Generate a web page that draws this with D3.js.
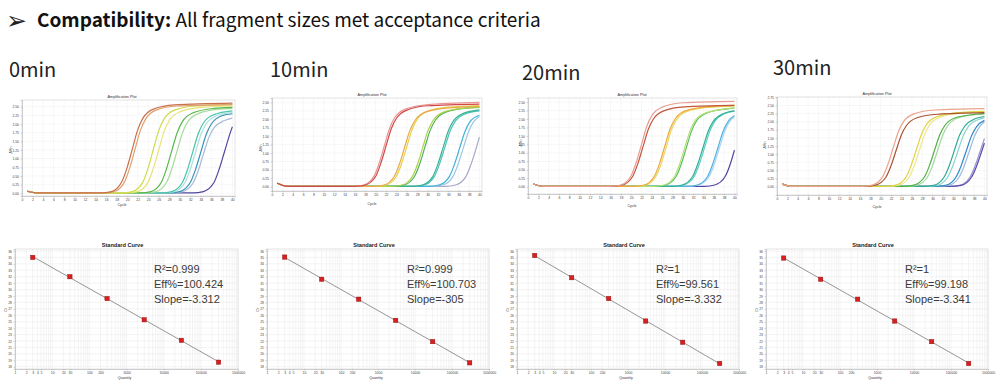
<!DOCTYPE html>
<html><head><meta charset="utf-8">
<script src="https://cdn.jsdelivr.net/npm/d3@7"></script>
<style>html,body{margin:0;padding:0;background:#fff;}svg{display:block;}</style>
</head><body>
<svg id="c" width="1000" height="387"></svg>
<script>
// ---------------- DATA ----------------
const titleArrow = "➢";
const titleBold = "Compatibility:";
const titleRest = " All fragment sizes met acceptance criteria";
const headers = ["0min", "10min", "20min", "30min"];

const cycleTicks = [0,2,4,6,8,10,12,14,16,18,20,22,24,26,28,30,32,34,36,38,40];
const ampYTicks = [0,0.25,0.5,0.75,1,1.25,1.5,1.75,2,2.25,2.5];
const ampYTicks30 = [0,0.25,0.5,0.75,1,1.25,1.5,1.75,2,2.25,2.5,2.75];

// amplification curves: [cycle, ΔRn] points
const amp0min = [
 [[1,0.06],[3,0.01],[15,0.01],[17,0.05],[19,0.34],[20,0.75],[21,1.29],[22,1.83],[23,2.17],[25,2.43],[29,2.55],[40,2.6]],
 [[1,0.07],[3,0.01],[15.5,0.01],[17.5,0.05],[19.5,0.33],[20.5,0.74],[21.5,1.28],[22.5,1.81],[23.5,2.14],[25.5,2.4],[29.5,2.52],[40,2.56]],
 [[1,0.06],[3,0.01],[19,0.01],[21,0.05],[23,0.33],[24,0.74],[25,1.28],[26,1.81],[27,2.14],[29,2.4],[33,2.52],[40,2.56]],
 [[1,0.06],[3,0.01],[20,0.01],[22,0.05],[24,0.33],[25,0.73],[26,1.25],[27,1.78],[28,2.1],[30,2.35],[34,2.48],[40,2.52]],
 [[1,0.06],[3,0.01],[22.5,0.01],[24.5,0.05],[26.5,0.32],[27.5,0.72],[28.5,1.24],[29.5,1.75],[30.5,2.07],[32.5,2.32],[36.5,2.45],[40,2.48]],
 [[1,0.06],[3,0.01],[23.5,0.01],[25.5,0.05],[27.5,0.32],[28.5,0.71],[29.5,1.23],[30.5,1.74],[31.5,2.06],[33.5,2.3],[37.5,2.43],[40,2.45]],
 [[1,0.06],[3,0.01],[26.5,0.01],[28.5,0.05],[30.5,0.31],[31.5,0.7],[32.5,1.21],[33.5,1.72],[34.5,2.03],[36.5,2.27],[40,2.38]],
 [[1,0.06],[3,0.01],[27,0.01],[29,0.05],[31,0.31],[32,0.69],[33,1.19],[34,1.69],[35,2.0],[37,2.24],[40,2.33]],
 [[1,0.06],[3,0.01],[28,0.01],[30,0.05],[32,0.31],[33,0.69],[34,1.19],[35,1.69],[36,2.0],[38,2.24],[40,2.3]],
 [[1,0.06],[3,0.01],[28.5,0.01],[30.5,0.05],[32.5,0.29],[33.5,0.65],[34.5,1.13],[35.5,1.6],[36.5,1.89],[38.5,2.1],[40,2.17]],
 [[1,0.06],[3,0.01],[32.5,0.01],[34.5,0.05],[36.5,0.31],[37.5,0.7],[38.5,1.2],[39.5,1.7],[40,1.92]]
];
const amp10min = [
 [[1,0.1],[3,0.01],[16,0.01],[18,0.05],[20,0.31],[21,0.7],[22,1.21],[23,1.72],[24,2.03],[26,2.27],[30,2.4],[40,2.45]],
 [[1,0.1],[3,0.01],[15.7,0.01],[17.7,0.05],[19.7,0.32],[20.7,0.71],[21.7,1.23],[22.7,1.74],[23.7,2.06],[25.7,2.3],[29.7,2.43],[40,2.5]],
 [[1,0.1],[3,0.01],[19.6,0.01],[21.6,0.05],[23.6,0.31],[24.6,0.68],[25.6,1.18],[26.6,1.67],[27.6,1.97],[29.6,2.21],[33.6,2.33],[40,2.38]],
 [[1,0.1],[3,0.01],[20,0.01],[22,0.05],[24,0.31],[25,0.69],[26,1.19],[27,1.69],[28,2.0],[30,2.24],[34,2.36],[40,2.4]],
 [[1,0.1],[3,0.01],[23.1,0.01],[25.1,0.05],[27.1,0.31],[28.1,0.68],[29.1,1.18],[30.1,1.67],[31.1,1.97],[33.1,2.21],[37.1,2.33],[40,2.36]],
 [[1,0.1],[3,0.01],[23.5,0.01],[25.5,0.05],[27.5,0.31],[28.5,0.68],[29.5,1.18],[30.5,1.67],[31.5,1.97],[33.5,2.21],[37.5,2.33],[40,2.35]],
 [[1,0.1],[3,0.01],[27,0.01],[29,0.05],[31,0.3],[32,0.67],[33,1.16],[34,1.65],[35,1.95],[37,2.18],[40,2.28]],
 [[1,0.1],[3,0.01],[27.3,0.01],[29.3,0.05],[31.3,0.3],[32.3,0.67],[33.3,1.15],[34.3,1.63],[35.3,1.93],[37.3,2.16],[40,2.25]],
 [[1,0.1],[3,0.01],[30.2,0.01],[32.2,0.05],[34.2,0.3],[35.2,0.67],[36.2,1.15],[37.2,1.63],[38.2,1.93],[40,2.12]],
 [[1,0.1],[3,0.01],[30.9,0.01],[32.9,0.05],[34.9,0.3],[35.9,0.67],[36.9,1.15],[37.9,1.63],[38.9,1.93],[40,2.08]],
 [[1,0.1],[3,0.01],[33.4,0.01],[35.4,0.05],[37.4,0.3],[38.4,0.67],[39.4,1.15],[40,1.47]]
];
const amp20min = [
 [[1,0.08],[3,0.01],[16,0.01],[18,0.05],[20,0.33],[21,0.73],[22,1.25],[23,1.78],[24,2.1],[26,2.35],[30,2.48],[40,2.52]],
 [[1,0.08],[3,0.01],[16.3,0.01],[18.3,0.05],[20.3,0.31],[21.3,0.69],[22.3,1.19],[23.3,1.69],[24.3,2.0],[26.3,2.24],[30.3,2.36],[40,2.4]],
 [[1,0.08],[3,0.01],[20.5,0.01],[22.5,0.05],[24.5,0.31],[25.5,0.69],[26.5,1.19],[27.5,1.69],[28.5,2.0],[30.5,2.24],[34.5,2.36],[40,2.4]],
 [[1,0.08],[3,0.01],[20.8,0.01],[22.8,0.05],[24.8,0.31],[25.8,0.68],[26.8,1.18],[27.8,1.68],[28.8,1.98],[30.8,2.22],[34.8,2.34],[40,2.38]],
 [[1,0.08],[3,0.01],[24.4,0.01],[26.4,0.05],[28.4,0.3],[29.4,0.67],[30.4,1.16],[31.4,1.65],[32.4,1.95],[34.4,2.18],[38.4,2.3],[40,2.32]],
 [[1,0.08],[3,0.01],[24.7,0.01],[26.7,0.05],[28.7,0.3],[29.7,0.67],[30.7,1.16],[31.7,1.65],[32.7,1.95],[34.7,2.18],[38.7,2.3],[40,2.32]],
 [[1,0.08],[3,0.01],[27.9,0.01],[29.9,0.05],[31.9,0.3],[32.9,0.67],[33.9,1.15],[34.9,1.63],[35.9,1.93],[37.9,2.16],[40,2.24]],
 [[1,0.08],[3,0.01],[28.2,0.01],[30.2,0.05],[32.2,0.3],[33.2,0.67],[34.2,1.15],[35.2,1.63],[36.2,1.93],[38.2,2.16],[40,2.23]],
 [[1,0.08],[3,0.01],[30.8,0.01],[32.8,0.05],[34.8,0.3],[35.8,0.67],[36.8,1.15],[37.8,1.63],[38.8,1.93],[40,2.1]],
 [[1,0.08],[3,0.01],[31.1,0.01],[33.1,0.05],[35.1,0.3],[36.1,0.67],[37.1,1.15],[38.1,1.63],[39.1,1.93],[40,2.06]],
 [[1,0.08],[3,0.01],[34.2,0.01],[36.2,0.05],[38.2,0.3],[39.2,0.67],[40,1.08]]
];
const amp30min = [
 [[1,0.08],[3,0.01],[16.4,0.01],[18.4,0.05],[20.4,0.31],[21.4,0.69],[22.4,1.19],[23.4,1.69],[24.4,2.0],[26.4,2.24],[30.4,2.36],[40,2.4]],
 [[1,0.08],[3,0.01],[17,0.01],[19,0.05],[21,0.29],[22,0.65],[23,1.13],[24,1.6],[25,1.89],[27,2.12],[31,2.23],[40,2.28]],
 [[1,0.08],[3,0.01],[20.9,0.01],[22.9,0.05],[24.9,0.3],[25.9,0.67],[26.9,1.15],[27.9,1.63],[28.9,1.93],[30.9,2.16],[34.9,2.28],[40,2.32]],
 [[1,0.08],[3,0.01],[21.5,0.01],[23.5,0.05],[25.5,0.3],[26.5,0.66],[27.5,1.14],[28.5,1.62],[29.5,1.92],[31.5,2.14],[35.5,2.26],[40,2.3]],
 [[1,0.08],[3,0.01],[24.4,0.01],[26.4,0.05],[28.4,0.29],[29.4,0.65],[30.4,1.13],[31.4,1.6],[32.4,1.89],[34.4,2.12],[38.4,2.23],[40,2.25]],
 [[1,0.08],[3,0.01],[25,0.01],[27,0.05],[29,0.29],[30,0.65],[31,1.13],[32,1.6],[33,1.89],[35,2.12],[39,2.23],[40,2.24]],
 [[1,0.08],[3,0.01],[28.2,0.01],[30.2,0.04],[32.2,0.29],[33.2,0.64],[34.2,1.11],[35.2,1.58],[36.2,1.86],[38.2,2.09],[40,2.16]],
 [[1,0.08],[3,0.01],[28.9,0.01],[30.9,0.04],[32.9,0.29],[33.9,0.64],[34.9,1.1],[35.9,1.56],[36.9,1.85],[38.9,2.07],[40,2.12]],
 [[1,0.08],[3,0.01],[30.5,0.01],[32.5,0.04],[34.5,0.29],[35.5,0.64],[36.5,1.1],[37.5,1.56],[38.5,1.85],[40,2.04]],
 [[1,0.08],[3,0.01],[31.1,0.01],[33.1,0.04],[35.1,0.29],[36.1,0.64],[37.1,1.1],[38.1,1.56],[39.1,1.85],[40,2.0]],
 [[1,0.08],[3,0.01],[33.5,0.01],[35.5,0.04],[37.5,0.29],[38.5,0.64],[39.5,1.1],[40,1.34]],
 [[1,0.08],[3,0.01],[33.2,0.01],[35.2,0.04],[37.2,0.29],[38.2,0.64],[39.2,1.1],[40,1.48]]
];

// standard curves
const quantities = [3, 30, 300, 3000, 30000, 300000];
const ct0min  = [35.0, 32.0, 28.6, 25.3, 22.1, 18.7];
const ct10min = [35.05, 31.6, 28.5, 25.2, 21.9, 18.6];
const ct20min = [35.3, 31.85, 28.6, 25.1, 21.8, 18.5];
const ct30min = [34.9, 31.6, 28.5, 25.1, 21.9, 18.5];
const qtyTicks = [1,2,3,4,5,10,20,30,100,200,1000,10000,100000,1000000];
const ctTicks = [18,19,20,21,22,23,24,25,26,27,28,29,30,31,32,33,34,35,36];

const stats0min  = ["R²=0.999", "Eff%=100.424", "Slope=-3.312"];
const stats10min = ["R²=0.999", "Eff%=100.703", "Slope=-305"];
const stats20min = ["R²=1", "Eff%=99.561", "Slope=-3.332"];
const stats30min = ["R²=1", "Eff%=99.198", "Slope=-3.341"];

// ---------------- STYLE / LAYOUT ----------------
const colors0  = ["#c8714c","#e0a070","#cfdc4a","#ece27a","#5cb84c","#a6dc9c","#4cc4a8","#a8e2e0","#3a92b8","#a4bcd8","#5048a0"];
const colors10 = ["#d04848","#ea9494","#eaa848","#e2d24a","#acd24a","#52b25a","#3ab28a","#4cc2c2","#42b2da","#9cc8e2","#a8a8c8"];
const colors20 = ["#ea9c94","#c0583a","#f0a83a","#e8d862","#b2e072","#5ac062","#32b092","#5acec8","#52b2e2","#a8d4f0","#5242a2"];
const colors30 = ["#eaa48c","#aa5232","#e2d242","#ece892","#52b242","#a2d8a2","#32aa92","#8ad4d0","#328ac2","#9abce2","#5a4aa8","#9a92d2"];

const CJK = '"Noto Sans CJK SC","Noto Sans",sans-serif';
const SM = '"Liberation Sans",Arial,sans-serif';
const svg = d3.select("#c");

// Title line
svg.append("text").attr("x", 6).attr("y", 29).attr("font-family", '"DejaVu Sans",sans-serif')
  .attr("font-size", 25).attr("fill", "#222").text(titleArrow);
const tt = svg.append("text").attr("x", 37).attr("y", 27).attr("font-family", CJK)
  .attr("font-size", 19).attr("fill", "#111");
tt.append("tspan").attr("font-weight", 700).text(titleBold);
tt.append("tspan").attr("font-weight", 400).text(titleRest);

// Headers
const hdrPos = [[9, 77], [270, 77], [522, 80], [773, 75]];
headers.forEach((h, i) => {
  svg.append("text").attr("x", hdrPos[i][0]).attr("y", hdrPos[i][1]).attr("font-family", CJK)
    .attr("font-size", 20).attr("fill", "#222").text(h);
});

// ---------------- Amplification plots ----------------
const ampLayout = [
  {x0: 22,  x1: 235, y0: 100, y1: 196, yd: [-0.078, 2.693], tx: 122, ty: 97.5, cy: 206, ly: [11.5, 150]},
  {x0: 272, x1: 482, y0: 98,  y1: 191, yd: [-0.128, 2.63],  tx: 372, ty: 96,   cy: 204.5, ly: [261.5, 148]},
  {x0: 528, x1: 737, y0: 98,  y1: 194, yd: [-0.215, 2.62],  tx: 632, ty: 96,   cy: 207, ly: [521.5, 143]},
  {x0: 777, x1: 987, y0: 97,  y1: 195, yd: [-0.255, 2.76],  tx: 877, ty: 95,   cy: 208, ly: [766, 145]}
];

function ampPanel(L, curves, colors, yTicks) {
  const g = svg.append("g");
  const x = d3.scaleLinear().domain([0, 40.5]).range([L.x0, L.x1]);
  const y = d3.scaleLinear().domain(L.yd).range([L.y1, L.y0]);
  g.append("rect").attr("x", L.x0).attr("y", L.y0).attr("width", L.x1 - L.x0).attr("height", L.y1 - L.y0)
    .attr("fill", "#fff").attr("stroke", "#cfcfcf").attr("stroke-width", 0.6);
  g.selectAll(".vg").data(cycleTicks).join("line")
    .attr("x1", d => x(d)).attr("x2", d => x(d)).attr("y1", L.y0).attr("y2", L.y1)
    .attr("stroke", "#e6e6e6").attr("stroke-width", 0.5).attr("stroke-dasharray", "1.5,1");
  g.selectAll(".hg").data(yTicks).join("line")
    .attr("x1", L.x0).attr("x2", L.x1).attr("y1", d => y(d)).attr("y2", d => y(d))
    .attr("stroke", "#e6e6e6").attr("stroke-width", 0.5).attr("stroke-dasharray", "1.5,1");
  const ax = g.append("g").attr("transform", `translate(0,${L.y1})`)
    .call(d3.axisBottom(x).tickValues(cycleTicks).tickSize(1.5).tickPadding(1).tickFormat(d3.format("d")));
  const ay = g.append("g").attr("transform", `translate(${L.x0},0)`)
    .call(d3.axisLeft(y).tickValues(yTicks).tickSize(1.5).tickPadding(1.5).tickFormat(d3.format(".2f")));
  [ax, ay].forEach(a => {
    a.select(".domain").attr("stroke", "#aaa").attr("stroke-width", 0.5);
    a.selectAll(".tick line").attr("stroke", "#999").attr("stroke-width", 0.4);
    a.selectAll("text").attr("font-size", 3.4).attr("font-family", SM).attr("fill", "#444");
  });
  const line = d3.line().x(d => x(d[0])).y(d => y(d[1])).curve(d3.curveMonotoneX);
  const order = curves.map((c, i) => i).reverse();
  g.selectAll(".curve").data(order).join("path")
    .attr("d", i => line(curves[i])).attr("fill", "none")
    .attr("stroke", i => colors[i]).attr("stroke-width", 1.2);
  g.append("text").attr("x", L.tx).attr("y", L.ty).attr("text-anchor", "middle")
    .attr("font-family", SM).attr("font-size", 3.8).attr("fill", "#333").text("Amplification Plot");
  g.append("text").attr("x", L.tx).attr("y", L.cy).attr("text-anchor", "middle")
    .attr("font-family", SM).attr("font-size", 3.6).attr("fill", "#333").text("Cycle");
  g.append("text").attr("transform", `translate(${L.ly[0]},${L.ly[1]}) rotate(-90)`).attr("text-anchor", "middle")
    .attr("font-family", SM).attr("font-size", 3.6).attr("fill", "#333").text("ΔRn");
}
ampPanel(ampLayout[0], amp0min, colors0, ampYTicks);
ampPanel(ampLayout[1], amp10min, colors10, ampYTicks);
ampPanel(ampLayout[2], amp20min, colors20, ampYTicks);
ampPanel(ampLayout[3], amp30min, colors30, ampYTicks30);

// ---------------- Standard curves ----------------
const stdLayout = [
  {x0: 15,  x1: 238, sx: 154},
  {x0: 267, x1: 489, sx: 407},
  {x0: 517, x1: 739, sx: 656},
  {x0: 766, x1: 988, sx: 905}
];
const stdY0 = 249, stdY1 = 369;

function stdPanel(L, cts, stats) {
  const g = svg.append("g");
  const x = d3.scaleLog().domain([1, 1e6]).range([L.x0, L.x1]);
  const y = d3.scaleLinear().domain([17.64, 36.31]).range([stdY1, stdY0]);
  g.append("rect").attr("x", L.x0).attr("y", stdY0).attr("width", L.x1 - L.x0).attr("height", stdY1 - stdY0)
    .attr("fill", "#fff").attr("stroke", "#cfcfcf").attr("stroke-width", 0.6);
  g.selectAll(".vg").data(x.ticks()).join("line")
    .attr("x1", d => x(d)).attr("x2", d => x(d)).attr("y1", stdY0).attr("y2", stdY1)
    .attr("stroke", "#e8e8e8").attr("stroke-width", 0.5);
  g.selectAll(".hg").data(ctTicks).join("line")
    .attr("x1", L.x0).attr("x2", L.x1).attr("y1", d => y(d)).attr("y2", d => y(d))
    .attr("stroke", "#e8e8e8").attr("stroke-width", 0.5);
  const ax = g.append("g").attr("transform", `translate(0,${stdY1})`)
    .call(d3.axisBottom(x).tickValues(qtyTicks).tickSize(1.5).tickPadding(1).tickFormat(d3.format("d")));
  const ay = g.append("g").attr("transform", `translate(${L.x0},0)`)
    .call(d3.axisLeft(y).tickValues(ctTicks).tickSize(1.5).tickPadding(1.5).tickFormat(d3.format("d")));
  [ax, ay].forEach(a => {
    a.select(".domain").attr("stroke", "#aaa").attr("stroke-width", 0.5);
    a.selectAll(".tick line").attr("stroke", "#999").attr("stroke-width", 0.4);
    a.selectAll("text").attr("font-size", 3.4).attr("font-family", SM).attr("fill", "#444");
  });
  // least squares fit through the points
  const lx = quantities.map(q => Math.log10(q));
  const mx = d3.mean(lx), my = d3.mean(cts);
  const slope = d3.sum(lx.map((v, i) => (v - mx) * (cts[i] - my))) / d3.sum(lx.map(v => (v - mx) ** 2));
  const icpt = my - slope * mx;
  const ends = [quantities[0], quantities[quantities.length - 1]];
  g.append("line").attr("x1", x(ends[0])).attr("y1", y(icpt + slope * Math.log10(ends[0])))
    .attr("x2", x(ends[1])).attr("y2", y(icpt + slope * Math.log10(ends[1])))
    .attr("stroke", "#8a8a8a").attr("stroke-width", 0.9);
  g.selectAll(".pt").data(quantities).join("rect")
    .attr("x", (d) => x(d) - 2.2).attr("y", (d, i) => y(cts[i]) - 2.2).attr("width", 4.4).attr("height", 4.4)
    .attr("fill", "#d81e1e").attr("stroke", "#8a1010").attr("stroke-width", 0.4);
  const cx = (L.x0 + L.x1) / 2 - 4;
  g.append("text").attr("x", cx).attr("y", 247).attr("text-anchor", "middle").attr("font-weight", 700)
    .attr("font-family", SM).attr("font-size", 5.6).attr("fill", "#222").text("Standard Curve");
  g.append("text").attr("x", cx + 2).attr("y", 379).attr("text-anchor", "middle")
    .attr("font-family", SM).attr("font-size", 3.6).attr("fill", "#333").text("Quantity");
  g.append("text").attr("transform", `translate(${L.x0 - 8},310) rotate(-90)`).attr("text-anchor", "middle")
    .attr("font-family", SM).attr("font-size", 3.6).attr("fill", "#333").text("Ct");
  const sb = [272.5, 288, 302.5];
  stats.forEach((s, i) => {
    g.append("text").attr("x", L.sx).attr("y", sb[i]).attr("font-family", SM).attr("font-size", 11)
      .attr("fill", "#3a3a3a").text(s);
  });
}
stdPanel(stdLayout[0], ct0min, stats0min);
stdPanel(stdLayout[1], ct10min, stats10min);
stdPanel(stdLayout[2], ct20min, stats20min);
stdPanel(stdLayout[3], ct30min, stats30min);
</script>
</body></html>
